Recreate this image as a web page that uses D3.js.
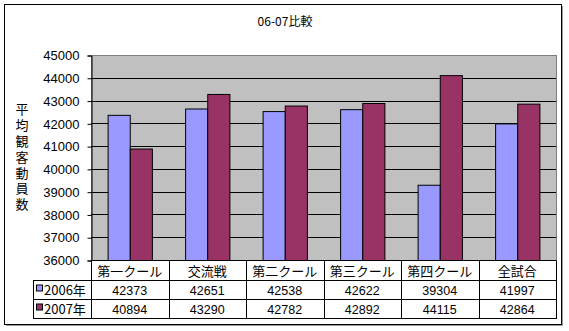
<!DOCTYPE html>
<html>
<head>
<meta charset="utf-8">
<script src="https://cdn.jsdelivr.net/npm/d3@7/dist/d3.min.js"></script>
<style>
  html, body { margin: 0; padding: 0; background: #fff; }
  svg { display: block; }
  text { font-family: "Noto Sans CJK JP", "Liberation Sans", sans-serif; fill: #000; }
</style>
</head>
<body>
<svg id="chart" width="569" height="331"></svg>
<script>
// Attendance averages per period, 2006 vs 2007
const categories = ["第一クール", "交流戦", "第二クール", "第三クール", "第四クール", "全試合"];
const seriesNames = ["2006年", "2007年"];
const values2006 = [42373, 42651, 42538, 42622, 39304, 41997];
const values2007 = [40894, 43290, 42782, 42892, 44115, 42864];
const yTicks = [36000, 37000, 38000, 39000, 40000, 41000, 42000, 43000, 44000, 45000];
const title = "06-07比較";
const yTitle = "平均観客動員数";

const colors = ["#9999FF", "#993366"];
const series = [values2006, values2007];

const svg = d3.select("#chart");

// chart frame with drop shadow
svg.append("rect").attr("x", 6).attr("y", 6).attr("width", 557).attr("height", 320).attr("fill", "#9a9a9a");
svg.append("rect").attr("x", 4.5).attr("y", 4.5).attr("width", 557).attr("height", 320)
  .attr("fill", "#fff").attr("stroke", "#000").attr("stroke-width", 1);

// title
svg.append("text").attr("x", 285).attr("y", 26).attr("text-anchor", "middle")
  .style("font-size", "12px").text(title);

// plot geometry
const plotLeft = 91, plotRight = 556, plotTop = 55, plotBottom = 260;

const x = d3.scaleBand().domain(categories).range([plotLeft, plotRight]).paddingInner(0).paddingOuter(0);
const y = d3.scaleLinear().domain([36000, 45000]).range([plotBottom, plotTop]);

// plot background
svg.append("rect").attr("x", plotLeft + 0.5).attr("y", plotTop + 0.5)
  .attr("width", plotRight - plotLeft).attr("height", plotBottom - plotTop)
  .attr("fill", "#C0C0C0").attr("stroke", "#808080").attr("stroke-width", 1);

// gridlines
svg.append("g").selectAll("line").data(yTicks.slice(1, -1)).join("line")
  .attr("x1", plotLeft).attr("x2", plotRight)
  .attr("y1", d => Math.round(y(d)) + 0.5).attr("y2", d => Math.round(y(d)) + 0.5)
  .attr("stroke", "#000").attr("stroke-width", 1);

// y axis
const yAxis = d3.axisLeft(y).tickValues(yTicks).tickSize(4).tickPadding(8).tickFormat(d3.format("d"));
const ya = svg.append("g").attr("transform", `translate(${plotLeft + 0.5},0.5)`).call(yAxis);
ya.select(".domain").attr("stroke", "#000");
ya.selectAll(".tick line").attr("stroke", "#000");
ya.selectAll(".tick text").style("font-family", "'Liberation Sans', sans-serif").style("font-size", "13px").attr("fill", "#000");

// y title, set in vertical writing mode
svg.append("text")
  .attr("x", 22).attr("y", 103)
  .style("writing-mode", "vertical-rl")
  .style("font-size", "13px")
  .style("letter-spacing", "2.8px")
  .text(yTitle);

// bars: gap width 150% of a bar
const bw = x.bandwidth() / 3.5;
series.forEach((vals, si) => {
  svg.append("g").selectAll("rect").data(vals).join("rect")
    .attr("x", (d, i) => x(categories[i]) + bw * 0.75 + si * bw + 0.5)
    .attr("y", d => y(d) + 0.5)
    .attr("width", bw)
    .attr("height", d => plotBottom - y(d))
    .attr("fill", colors[si])
    .attr("stroke", "#000").attr("stroke-width", 1);
});

// data table
const rowTop = 260, rowH = [19.5, 19, 19];
const legendLeft = 33;
const tbl = svg.append("g").attr("stroke", "#000").attr("stroke-width", 1).attr("fill", "none");
const r0 = rowTop + 0.5, r1 = r0 + rowH[0], r2 = r1 + rowH[1], r3 = r2 + rowH[2];
const snap = v => Math.round(v) + 0.5;
tbl.append("line").attr("x1", plotLeft).attr("x2", plotRight).attr("y1", r0).attr("y2", r0);
[r1, r2, r3].forEach(r => {
  tbl.append("line").attr("x1", legendLeft).attr("x2", plotRight + 1).attr("y1", snap(r)).attr("y2", snap(r));
});
const bounds = categories.map(c => x(c)).concat([plotRight]);
tbl.selectAll("line.v").data(bounds).join("line").attr("class", "v")
  .attr("x1", d => snap(d)).attr("x2", d => snap(d))
  .attr("y1", r0).attr("y2", snap(r3));
tbl.append("line").attr("x1", legendLeft + 0.5).attr("x2", legendLeft + 0.5)
  .attr("y1", snap(r1)).attr("y2", snap(r3));

// header row: category names
svg.append("g").selectAll("text").data(categories).join("text")
  .attr("x", d => x(d) + x.bandwidth() / 2).attr("y", r0 + 15)
  .attr("text-anchor", "middle").style("font-size", "13px").text(d => d);

// value rows with legend keys
const rowsY = [r1 + 14.5, r2 + 14.5];
series.forEach((vals, si) => {
  svg.append("g").selectAll("text").data(vals).join("text")
    .attr("x", (d, i) => x(categories[i]) + x.bandwidth() / 2).attr("y", rowsY[si])
    .attr("text-anchor", "middle")
    .style("font-family", "'Liberation Sans', sans-serif").style("font-size", "12.5px")
    .text(d => d);
  svg.append("rect").attr("x", 36.5).attr("y", rowsY[si] - 9.5).attr("width", 6).attr("height", 6)
    .attr("fill", colors[si]).attr("stroke", "#000").attr("stroke-width", 1);
  svg.append("text").attr("x", 44).attr("y", rowsY[si])
    .style("font-size", "13px").text(seriesNames[si]);
});
</script>
</body>
</html>
